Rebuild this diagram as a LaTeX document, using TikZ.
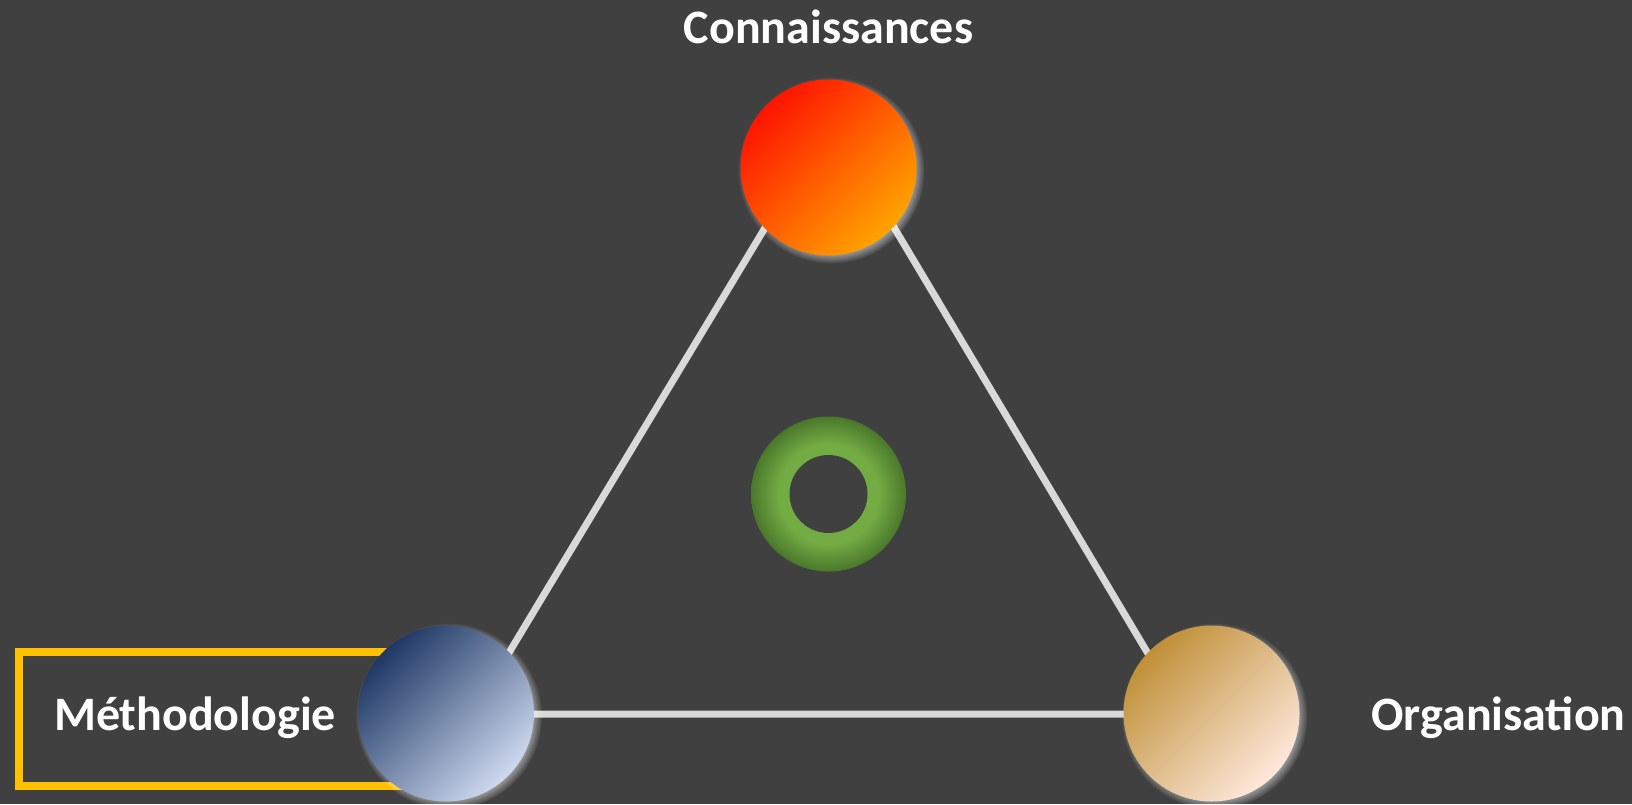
\documentclass[tikz,border=0pt]{standalone}
\usepackage{fontspec}
\setmainfont{Carlito}
\usetikzlibrary{positioning,shadows,fadings}
\definecolor{fond}{HTML}{404040}
\definecolor{trait}{HTML}{D9D9D9}
\definecolor{cadre}{HTML}{FFC000}
\definecolor{rougeA}{HTML}{FF1400}
\definecolor{rougeB}{HTML}{FFA400}
\definecolor{bleuA}{HTML}{1F3864}
\definecolor{bleuB}{HTML}{CDD9EF}
\definecolor{orA}{HTML}{C09038}
\definecolor{orB}{HTML}{FDE8DB}
\definecolor{vertA}{HTML}{74AC44}
\definecolor{vertB}{HTML}{4A782B}
\pgfdeclareradialshading{anneau}{\pgfpoint{0bp}{0bp}}{%
  color(0bp)=(vertA); color(14bp)=(vertA); color(16bp)=(vertA);
  color(25bp)=(vertB); color(50bp)=(vertB)}
\tikzset{
  triade/.style={x=0.5pt, y=-0.5pt},
  pole/.style={
    circle, minimum size=88pt, inner sep=0pt,
    circular drop shadow={shadow xshift=1.3pt, shadow yshift=-1.3pt,
      shadow scale=1.06, fill=white, opacity=0.65}
  },
  titre/.style={
    text=white, font=\fontsize{24}{28}\selectfont\bfseries,
    inner sep=0pt, anchor=base
  },
  lien/.style={draw=trait, line width=3.5pt},
  surligne/.style={draw=cadre, line width=4pt}
}
\begin{document}
\begin{tikzpicture}[triade]
% 1 : Fond
\fill[fond] (0,0) rectangle (1632,804);
\useasboundingbox (0,0) rectangle (1632,804);

% 2 : Triangle
\coordinate (sA) at (830,120);
\coordinate (sB) at (472,714);
\coordinate (sC) at (1184,714);
\draw[lien] (sA) -- (sB) -- (sC) -- cycle;

% 3 : Cadre autour de Méthodologie
\draw[surligne] (18.8,651.7) rectangle (446,786);

% 4 : Pôles
\node[pole, top color=rougeA, bottom color=rougeB, shading angle=45] (conn) at (828.5,167.5) {};
\node[pole, top color=bleuA, bottom color=bleuB, shading angle=45] (meth) at (446,713.5) {};
\node[pole, top color=orA, bottom color=orB, shading angle=45] (orga) at (1211.5,713.5) {};

% 5 : Anneau central
\node[circle, minimum size=77.5pt, inner sep=0pt, shading=anneau] (core) at (828.5,494) {};
\node[circle, minimum size=39pt, inner sep=0pt, fill=fond] (trou) at (core) {};

% 6 : Titres
\node[titre, above=17.25pt of conn] (tconn) {Connaissances};
\node[titre] (tmeth) at (195,730) {Méthodologie};
\node[titre] (torga) at (1498.5,730) {Organisation};

\end{tikzpicture}
\end{document}
